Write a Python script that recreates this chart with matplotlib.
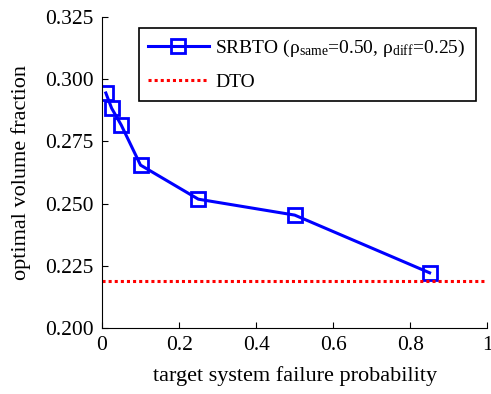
import matplotlib
matplotlib.use("Agg")
import matplotlib.pyplot as plt

# valeurs
pf_target = [0.01, 0.025, 0.05, 0.10, 0.25, 0.50, 0.85]
vol_srbto = [0.2945, 0.2884, 0.2816, 0.2655, 0.2518, 0.2454, 0.2222]
vol_dto = 0.2187

xticks = [0, 0.2, 0.4, 0.6, 0.8, 1]
xtick_labels = ["0", "0.2", "0.4", "0.6", "0.8", "1"]
yticks = [0.200, 0.225, 0.250, 0.275, 0.300, 0.325]
ytick_labels = ["0.200", "0.225", "0.250", "0.275", "0.300", "0.325"]

plt.rcParams["font.family"] = "Liberation Serif"
plt.rcParams["mathtext.fontset"] = "custom"
plt.rcParams["mathtext.rm"] = "Liberation Serif"
plt.rcParams["mathtext.it"] = "Liberation Serif:italic"

fig = plt.figure(figsize=(4.91, 3.94), dpi=100)
ax = fig.add_axes([0.2077, 0.1675, 0.785, 0.789])

ax.plot(pf_target, vol_srbto, "-s", color="#0000ff", lw=2.2, ms=9.5,
        mfc="none", mew=2,
        label=r"SRBTO ($\rm\rho_{same}$=0.50, $\rm\rho_{diff}$=0.25)")
ax.axhline(vol_dto, color="#ff0000", lw=2.2, ls=(0, (1, 1)), label="DTO")

ax.set_xlim(0, 1)
ax.set_ylim(0.2, 0.325)
ax.set_xticks(xticks)
ax.set_xticklabels(xtick_labels)
ax.set_yticks(yticks)
ax.set_yticklabels(ytick_labels)
ax.tick_params(direction="in", labelsize=15.5, length=4, pad=6)
ax.spines["top"].set_visible(False)
ax.spines["right"].set_visible(False)

ax.set_xlabel("target system failure probability", fontsize=16, labelpad=8)
ax.set_ylabel("optimal volume fraction", fontsize=16, labelpad=10)

leg = ax.legend(loc="upper left", bbox_to_anchor=(0.095, 0.965), fontsize=14,
                fancybox=False, edgecolor="black", framealpha=1,
                handlelength=3.1, handletextpad=0.35, borderpad=0.5,
                borderaxespad=0, labelspacing=0.75)
leg.get_frame().set_linewidth(1.2)

fig.savefig("out.png", dpi=100)
